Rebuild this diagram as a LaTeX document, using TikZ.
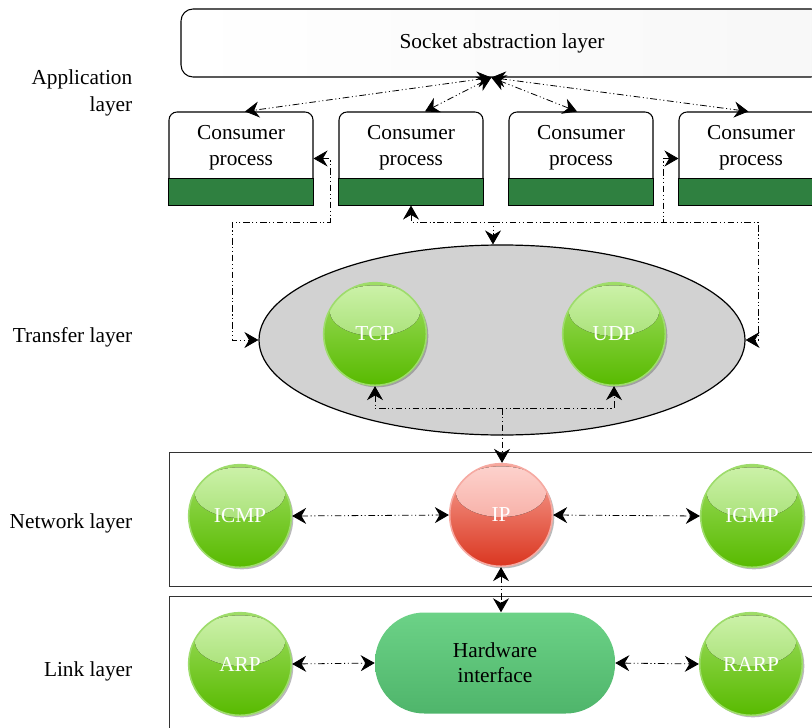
\documentclass[tikz,border=0pt]{standalone}
\usepackage{fontspec}
\setmainfont{Liberation Serif}
\usetikzlibrary{arrows.meta,shapes.geometric,shadows}
\definecolor{gtop}{HTML}{A0DE62}
\definecolor{gbot}{HTML}{58BA00}
\definecolor{ghla}{HTML}{CDF2AA}
\definecolor{ghlb}{HTML}{8CD450}
\definecolor{gedge}{HTML}{9EDC6C}
\definecolor{rtop}{HTML}{F8A598}
\definecolor{rbot}{HTML}{DA3620}
\definecolor{rhla}{HTML}{FDD3CE}
\definecolor{rhlb}{HTML}{F49488}
\definecolor{redge}{HTML}{F6AAA2}
\definecolor{hwtop}{HTML}{6CD287}
\definecolor{hwbot}{HTML}{4FB56B}
\definecolor{cgreen}{HTML}{2F8040}
\begin{document}
\begin{tikzpicture}[x=0.75pt,y=-0.75pt,
  every node/.style={font=\fontsize{16}{20}\selectfont},
  dd/.style={line width=0.6pt, dash pattern=on 5pt off 2pt on 0.8pt off 2pt on 0.8pt off 2pt},
  >={Stealth[length=10.5pt,width=12pt,inset=3.5pt]},
  lbl/.style={anchor=east, align=right},
  cbox/.style={draw, fill=white, rounded corners=6pt, line width=0.8pt, minimum width=108pt, minimum height=69.75pt, inner sep=0pt},
  layerbox/.style={draw=black!80, line width=1pt, minimum width=495.75pt, inner sep=0pt, anchor=north west},
  ball/.style={circle, minimum size=77pt, inner sep=0pt, text=white, line width=1.2pt,
    draw=#1edge, top color=#1top, bottom color=#1bot,
    drop shadow={shadow xshift=1.5pt,shadow yshift=-1.5pt,opacity=0.45,fill=black!60},
    path picture={\fill[top color=#1hla, bottom color=#1hlb] ([yshift=17.5pt]path picture bounding box.center) ellipse [x radius=34pt, y radius=19pt];}}
]
\useasboundingbox (0,0) rectangle (812,727);
\clip (0,0) rectangle (812,727);

% layer labels
\node[lbl] (lapp) at (137,93) {Application\\layer};
\node[lbl] (ltr) at (137,337) {Transfer layer};
\node[lbl] (lnet) at (137,523) {Network layer};
\node[lbl] (llink) at (137,671) {Link layer};

% socket layer
\node[draw, rounded corners=9pt, line width=0.8pt, left color=white, right color=gray!6,
  minimum width=481.5pt, minimum height=51pt, inner sep=0pt] (sock) at (502,43) {Socket abstraction layer};

% consumer boxes
\foreach \i/\x in {1/241,2/411,3/581,4/751}{
  \node[cbox] (c\i) at (\x,158.5) {};
  \draw[fill=cgreen, line width=0.8pt] (c\i.south west) rectangle ([yshift=20.25pt]c\i.south east);
  \node[align=center, font=\fontsize{16}{19.5}\selectfont] (c\i t) at (\x,148) {Consumer\\process};
}

% transfer layer
\node[ellipse, draw, line width=0.9pt, fill=gray!35, minimum width=364.5pt, minimum height=142.5pt, inner sep=0pt] (trans) at (502,340) {};
\node[ball=g] (tcp) at (375,334) {TCP};
\node[ball=g] (udp) at (614,334) {UDP};

% network & link layer boxes
\node[layerbox, minimum height=100.5pt] (netbox) at (169,452) {};
\node[layerbox, minimum height=108pt] (linkbox) at (169,596) {};

\node[ball=g] (icmp) at (240,516) {ICMP};
\node[ball=r] (ip) at (501,515) {IP};
\node[ball=g] (igmp) at (752,516) {IGMP};

\node[ball=g] (arp) at (240,664) {ARP};
\node[ball=g] (rarp) at (751,664) {RARP};
\node[rounded corners=37pt, minimum width=180pt, minimum height=75.75pt, top color=hwtop, bottom color=hwbot,
  align=center, inner sep=0pt, font=\fontsize{16}{19}\selectfont] (hw) at (495,663) {Hardware\\interface};

% connectors: socket to consumers
\coordinate (s0) at ([xshift=-8pt]sock.south);
\draw[dd,<->] (s0) -- ([xshift=3pt]c1.north);
\draw[dd,<->] (s0) -- ([xshift=10.5pt]c2.north);
\draw[dd,<->] (s0) -- ([xshift=-3pt]c3.north);
\draw[dd,<->] (s0) -- ([xshift=-2pt]c4.north);

% consumers to transfer layer
\draw[dd,<->] (c1.east) -| (330,222) -| (232,340) -- (trans.west);
\draw[dd,<->] (c4.west) -| (663,222) -| (758,340) -- (trans.east);
\coordinate (j1) at (493,222);
\draw[dd,<->] (c2.south) |- (j1) -- (j1 |- trans.north);
\draw[dd] (j1) -- (663,222);

% transfer to network
\coordinate (j2) at (502,408);
\draw[dd,<->] (tcp.south) -- (tcp.south |- j2) -- (udp.south |- j2) -- (udp.south);
\draw[dd,->] (j2) -- (j2 |- ip.north);

% network layer
\draw[dd,<->] (icmp.east) -- (ip.west);
\draw[dd,<->] (ip.east) -- (igmp.west);
\draw[dd,<->] (ip.south) -- (ip.south |- hw.north);

% link layer
\draw[dd,<->] (arp.east) -- (hw.west);
\draw[dd,<->] (hw.east) -- (rarp.west);
\end{tikzpicture}
\end{document}
